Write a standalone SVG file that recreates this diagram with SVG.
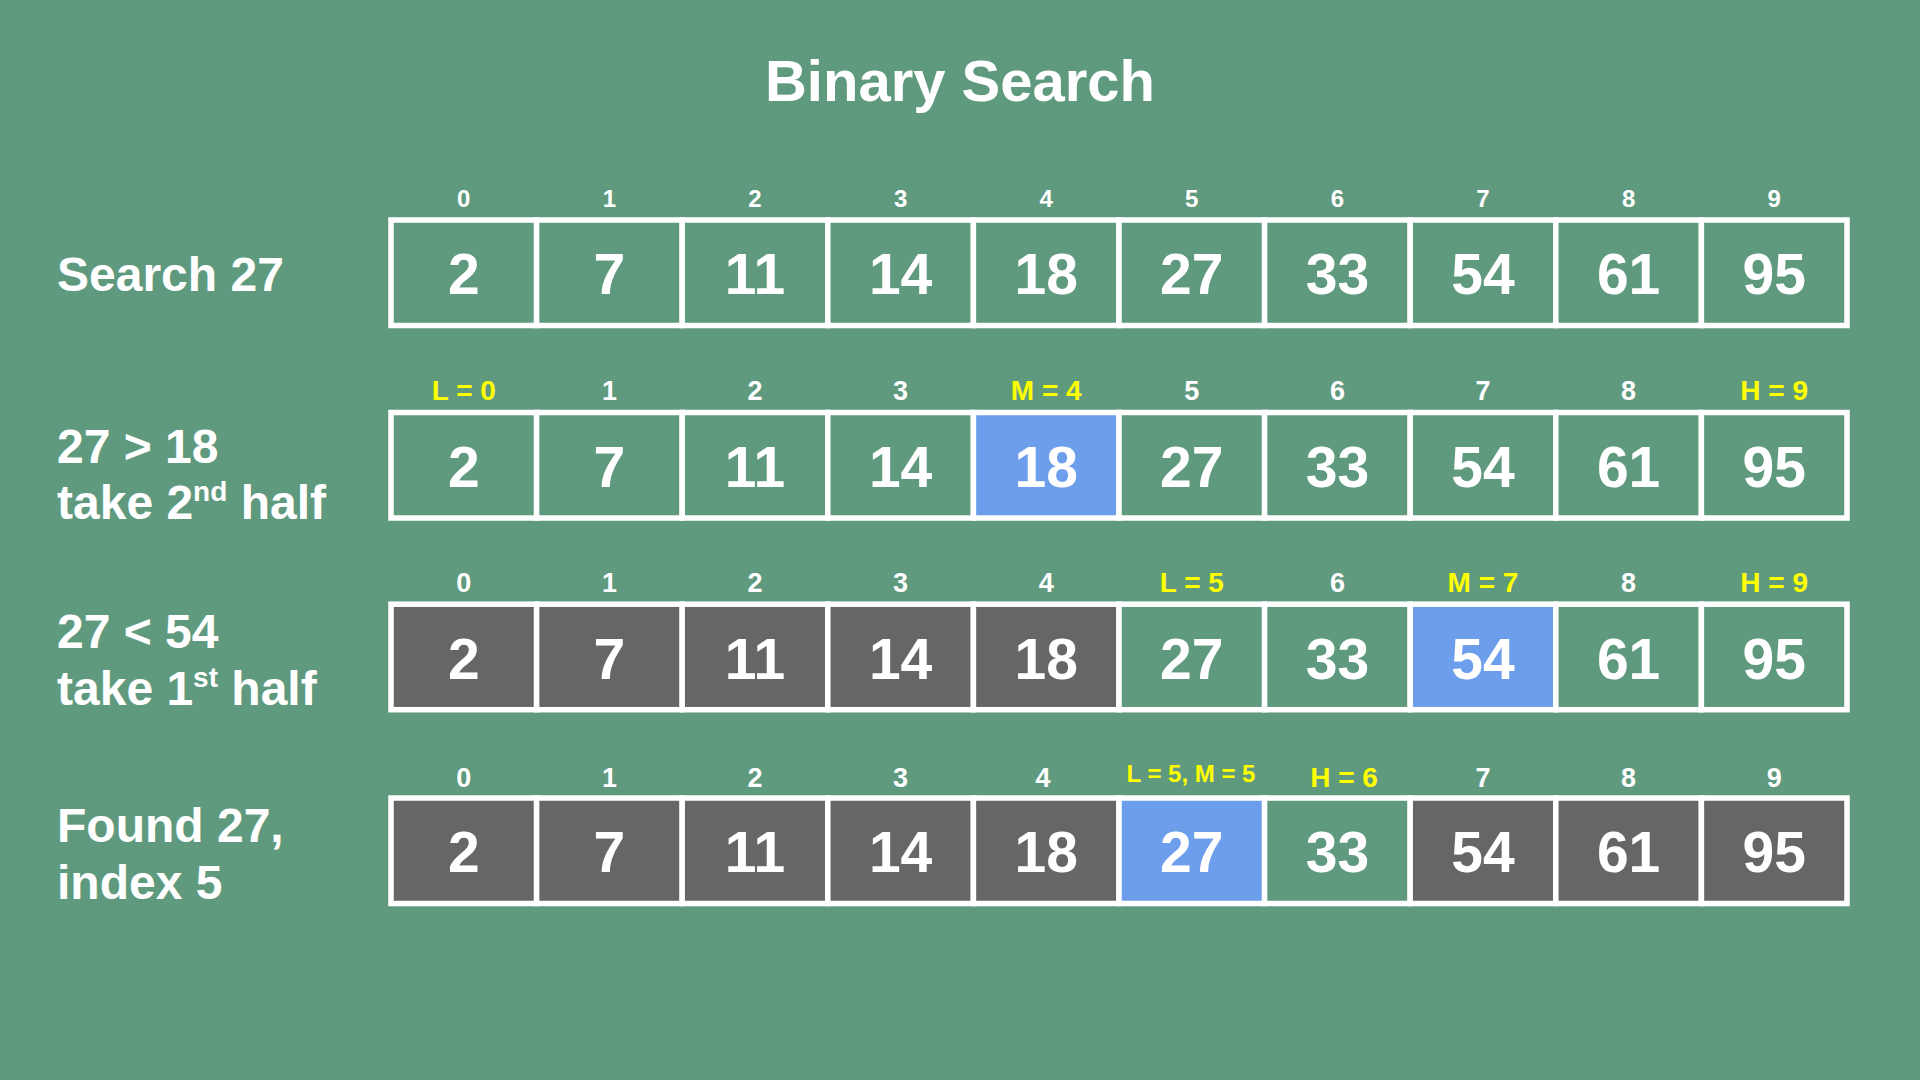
<svg xmlns="http://www.w3.org/2000/svg" width="1920" height="1080" viewBox="0 0 1920 1080">
<style>
text{font-family:"Liberation Sans",Arial,sans-serif;font-weight:bold}
.bg{fill:#5F9A7F}
.c{stroke:#FFFFFF;stroke-width:5.5}
.g{fill:#5F9A7F}
.d{fill:#666666}
.b{fill:#6D9EEB}
.v{fill:#FFFFFF;font-size:57px;text-anchor:middle}
.i1{fill:#FFFFFF;font-size:24px;text-anchor:middle}
.i{fill:#FFFFFF;font-size:27px;text-anchor:middle}
.y{fill:#FFFF00;font-size:28px;text-anchor:middle}
.ys{fill:#FFFF00;font-size:24px;text-anchor:middle}
.lab{fill:#FFFFFF;font-size:48px}
.title{fill:#FFFFFF;font-size:58px;text-anchor:middle}
</style>
<rect class="bg" x="0" y="0" width="1920" height="1080"/>
<text class="title" x="960" y="101">Binary Search</text>

<g id="labels">
<text class="lab" x="57" y="291">Search 27</text>
<text class="lab" x="57" y="463">27 &gt; 18</text>
<text class="lab" x="57" y="519">take 2<tspan font-size="28" dy="-18.5">nd</tspan><tspan dy="18.5"> half</tspan></text>
<text class="lab" x="57" y="648">27 &lt; 54</text>
<text class="lab" x="57" y="705">take 1<tspan font-size="28" dy="-18.5">st</tspan><tspan dy="18.5"> half</tspan></text>
<text class="lab" x="57" y="842">Found 27,</text>
<text class="lab" x="57" y="899">index 5</text>
</g>

<g id="row1">
<g id="r1c0"><rect class="c g" x="391" y="220" width="145.6" height="105.5"/><text class="v" x="463.8" y="294">2</text><text class="i1" x="463.8" y="207">0</text></g>
<g id="r1c1"><rect class="c g" x="536.6" y="220" width="145.6" height="105.5"/><text class="v" x="609.4" y="294">7</text><text class="i1" x="609.4" y="207">1</text></g>
<g id="r1c2"><rect class="c g" x="682.2" y="220" width="145.6" height="105.5"/><text class="v" x="755" y="294">11</text><text class="i1" x="755" y="207">2</text></g>
<g id="r1c3"><rect class="c g" x="827.8" y="220" width="145.6" height="105.5"/><text class="v" x="900.6" y="294">14</text><text class="i1" x="900.6" y="207">3</text></g>
<g id="r1c4"><rect class="c g" x="973.4" y="220" width="145.6" height="105.5"/><text class="v" x="1046.2" y="294">18</text><text class="i1" x="1046.2" y="207">4</text></g>
<g id="r1c5"><rect class="c g" x="1119" y="220" width="145.6" height="105.5"/><text class="v" x="1191.8" y="294">27</text><text class="i1" x="1191.8" y="207">5</text></g>
<g id="r1c6"><rect class="c g" x="1264.6" y="220" width="145.6" height="105.5"/><text class="v" x="1337.4" y="294">33</text><text class="i1" x="1337.4" y="207">6</text></g>
<g id="r1c7"><rect class="c g" x="1410.2" y="220" width="145.6" height="105.5"/><text class="v" x="1483" y="294">54</text><text class="i1" x="1483" y="207">7</text></g>
<g id="r1c8"><rect class="c g" x="1555.8" y="220" width="145.6" height="105.5"/><text class="v" x="1628.6" y="294">61</text><text class="i1" x="1628.6" y="207">8</text></g>
<g id="r1c9"><rect class="c g" x="1701.4" y="220" width="145.6" height="105.5"/><text class="v" x="1774.2" y="294">95</text><text class="i1" x="1774.2" y="207">9</text></g>
</g>

<g id="row2">
<g id="r2c0"><rect class="c g" x="391" y="412.5" width="145.6" height="105.5"/><text class="v" x="463.8" y="486.5">2</text><text class="y" x="463.8" y="399.5">L = 0</text></g>
<g id="r2c1"><rect class="c g" x="536.6" y="412.5" width="145.6" height="105.5"/><text class="v" x="609.4" y="486.5">7</text><text class="i" x="609.4" y="399.5">1</text></g>
<g id="r2c2"><rect class="c g" x="682.2" y="412.5" width="145.6" height="105.5"/><text class="v" x="755" y="486.5">11</text><text class="i" x="755" y="399.5">2</text></g>
<g id="r2c3"><rect class="c g" x="827.8" y="412.5" width="145.6" height="105.5"/><text class="v" x="900.6" y="486.5">14</text><text class="i" x="900.6" y="399.5">3</text></g>
<g id="r2c4"><rect class="c b" x="973.4" y="412.5" width="145.6" height="105.5"/><text class="v" x="1046.2" y="486.5">18</text><text class="y" x="1046.2" y="399.5">M = 4</text></g>
<g id="r2c5"><rect class="c g" x="1119" y="412.5" width="145.6" height="105.5"/><text class="v" x="1191.8" y="486.5">27</text><text class="i" x="1191.8" y="399.5">5</text></g>
<g id="r2c6"><rect class="c g" x="1264.6" y="412.5" width="145.6" height="105.5"/><text class="v" x="1337.4" y="486.5">33</text><text class="i" x="1337.4" y="399.5">6</text></g>
<g id="r2c7"><rect class="c g" x="1410.2" y="412.5" width="145.6" height="105.5"/><text class="v" x="1483" y="486.5">54</text><text class="i" x="1483" y="399.5">7</text></g>
<g id="r2c8"><rect class="c g" x="1555.8" y="412.5" width="145.6" height="105.5"/><text class="v" x="1628.6" y="486.5">61</text><text class="i" x="1628.6" y="399.5">8</text></g>
<g id="r2c9"><rect class="c g" x="1701.4" y="412.5" width="145.6" height="105.5"/><text class="v" x="1774.2" y="486.5">95</text><text class="y" x="1774.2" y="399.5">H = 9</text></g>
</g>

<g id="row3">
<g id="r3c0"><rect class="c d" x="391" y="604.2" width="145.6" height="105.5"/><text class="v" x="463.8" y="678.5">2</text><text class="i" x="463.8" y="592">0</text></g>
<g id="r3c1"><rect class="c d" x="536.6" y="604.2" width="145.6" height="105.5"/><text class="v" x="609.4" y="678.5">7</text><text class="i" x="609.4" y="592">1</text></g>
<g id="r3c2"><rect class="c d" x="682.2" y="604.2" width="145.6" height="105.5"/><text class="v" x="755" y="678.5">11</text><text class="i" x="755" y="592">2</text></g>
<g id="r3c3"><rect class="c d" x="827.8" y="604.2" width="145.6" height="105.5"/><text class="v" x="900.6" y="678.5">14</text><text class="i" x="900.6" y="592">3</text></g>
<g id="r3c4"><rect class="c d" x="973.4" y="604.2" width="145.6" height="105.5"/><text class="v" x="1046.2" y="678.5">18</text><text class="i" x="1046.2" y="592">4</text></g>
<g id="r3c5"><rect class="c g" x="1119" y="604.2" width="145.6" height="105.5"/><text class="v" x="1191.8" y="678.5">27</text><text class="y" x="1191.8" y="592">L = 5</text></g>
<g id="r3c6"><rect class="c g" x="1264.6" y="604.2" width="145.6" height="105.5"/><text class="v" x="1337.4" y="678.5">33</text><text class="i" x="1337.4" y="592">6</text></g>
<g id="r3c7"><rect class="c b" x="1410.2" y="604.2" width="145.6" height="105.5"/><text class="v" x="1483" y="678.5">54</text><text class="y" x="1483" y="592">M = 7</text></g>
<g id="r3c8"><rect class="c g" x="1555.8" y="604.2" width="145.6" height="105.5"/><text class="v" x="1628.6" y="678.5">61</text><text class="i" x="1628.6" y="592">8</text></g>
<g id="r3c9"><rect class="c g" x="1701.4" y="604.2" width="145.6" height="105.5"/><text class="v" x="1774.2" y="678.5">95</text><text class="y" x="1774.2" y="592">H = 9</text></g>
</g>

<g id="row4">
<g id="r4c0"><rect class="c d" x="391" y="798" width="145.6" height="105.5"/><text class="v" x="463.8" y="872">2</text><text class="i" x="463.8" y="786.5">0</text></g>
<g id="r4c1"><rect class="c d" x="536.6" y="798" width="145.6" height="105.5"/><text class="v" x="609.4" y="872">7</text><text class="i" x="609.4" y="786.5">1</text></g>
<g id="r4c2"><rect class="c d" x="682.2" y="798" width="145.6" height="105.5"/><text class="v" x="755" y="872">11</text><text class="i" x="755" y="786.5">2</text></g>
<g id="r4c3"><rect class="c d" x="827.8" y="798" width="145.6" height="105.5"/><text class="v" x="900.6" y="872">14</text><text class="i" x="900.6" y="786.5">3</text></g>
<g id="r4c4"><rect class="c d" x="973.4" y="798" width="145.6" height="105.5"/><text class="v" x="1046.2" y="872">18</text><text class="i" x="1043" y="786.5">4</text></g>
<g id="r4c5"><rect class="c b" x="1119" y="798" width="145.6" height="105.5"/><text class="v" x="1191.8" y="872">27</text><text class="ys" x="1191" y="782">L = 5, M = 5</text></g>
<g id="r4c6"><rect class="c g" x="1264.6" y="798" width="145.6" height="105.5"/><text class="v" x="1337.4" y="872">33</text><text class="y" x="1344" y="786.5">H = 6</text></g>
<g id="r4c7"><rect class="c d" x="1410.2" y="798" width="145.6" height="105.5"/><text class="v" x="1483" y="872">54</text><text class="i" x="1483" y="786.5">7</text></g>
<g id="r4c8"><rect class="c d" x="1555.8" y="798" width="145.6" height="105.5"/><text class="v" x="1628.6" y="872">61</text><text class="i" x="1628.6" y="786.5">8</text></g>
<g id="r4c9"><rect class="c d" x="1701.4" y="798" width="145.6" height="105.5"/><text class="v" x="1774.2" y="872">95</text><text class="i" x="1774.2" y="786.5">9</text></g>
</g>
<g id="connectors"/>
</svg>
